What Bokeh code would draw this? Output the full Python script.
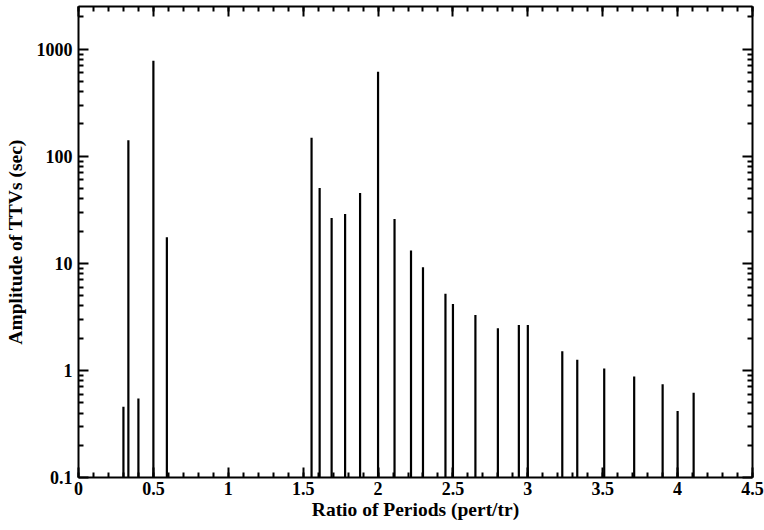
from bokeh.plotting import figure
from bokeh.models import LinearAxis, LogAxis, FixedTicker, CustomJSTickFormatter, Range1d
from bokeh.embed import file_html
from bokeh.resources import INLINE

# Data
period_ratio = [0.30, 0.333, 0.40, 0.50, 0.59, 1.556, 1.61, 1.69, 1.78, 1.88, 2.0,
                2.11, 2.22, 2.30, 2.45, 2.50, 2.65, 2.80, 2.94, 3.0, 3.23, 3.33,
                3.51, 3.71, 3.90, 4.0, 4.107]
ttv_amplitude = [0.457, 141, 0.548, 780, 17.5, 149, 50.4, 26.5, 28.9, 45.3, 614,
                 25.9, 13.2, 9.17, 5.2, 4.16, 3.29, 2.48, 2.65, 2.65, 1.51, 1.26,
                 1.04, 0.877, 0.743, 0.418, 0.619]
x_ticks = [0, 0.5, 1, 1.5, 2, 2.5, 3, 3.5, 4, 4.5]
y_ticks = [0.1, 1, 10, 100, 1000]

X_MIN, X_MAX = 0, 4.5
Y_MIN, Y_MAX = 0.1, 2500

x_minor = [round(i * 0.1, 1) for i in range(0, 46)]
y_minor = [k * 10.0 ** e for e in range(-1, 4) for k in range(2, 10)]

FONT = "'Liberation Serif', 'Times New Roman', 'DejaVu Serif', serif"

p = figure(frame_width=674, frame_height=471, y_axis_type="log",
           x_range=Range1d(X_MIN, X_MAX), y_range=Range1d(Y_MIN, Y_MAX),
           output_backend="svg", toolbar_location=None,
           min_border_left=78, min_border_right=12, min_border_top=6,
           min_border_bottom=53)
p.grid.visible = False
p.outline_line_color = None
p.background_fill_color = "white"
p.border_fill_color = "white"

p.segment(x0=period_ratio, y0=[Y_MIN] * len(period_ratio),
          x1=period_ratio, y1=ttv_amplitude,
          line_color="black", line_width=2.2, line_cap="butt")

fmt_js = "return String(tick)"
xt = FixedTicker(ticks=x_ticks, minor_ticks=x_minor)
yt = FixedTicker(ticks=y_ticks, minor_ticks=y_minor)


def style(ax, labels=True):
    ax.axis_line_width = 2
    ax.axis_line_color = "black"
    ax.major_tick_line_width = 2
    ax.minor_tick_line_width = 2
    ax.major_tick_in = 10
    ax.major_tick_out = 0
    ax.minor_tick_in = 5
    ax.minor_tick_out = 0
    ax.major_tick_line_color = "black"
    ax.minor_tick_line_color = "black"
    if labels:
        ax.major_label_text_font = FONT
        ax.major_label_text_font_style = "bold"
        ax.major_label_text_font_size = "18px"
        ax.major_label_text_color = "black"
        ax.axis_label_text_font = FONT
        ax.axis_label_text_font_style = "bold"
        ax.axis_label_text_font_size = "19.5px"
        ax.axis_label_text_color = "black"
    else:
        ax.major_label_text_font_size = "0px"
        ax.major_label_standoff = 0


xa = p.xaxis[0]
xa.ticker = xt
xa.formatter = CustomJSTickFormatter(code=fmt_js)
xa.axis_label = "Ratio of Periods (pert/tr)"
xa.major_label_standoff = 4
xa.axis_label_standoff = 1
style(xa)

ya = p.yaxis[0]
ya.ticker = yt
ya.formatter = CustomJSTickFormatter(code=fmt_js)
ya.axis_label = "Amplitude of TTVs (sec)"
ya.major_label_standoff = 6
ya.axis_label_standoff = 8
style(ya)

top = LinearAxis(ticker=FixedTicker(ticks=x_ticks, minor_ticks=x_minor),
                 formatter=CustomJSTickFormatter(code="return ''"))
style(top, labels=False)
p.add_layout(top, "above")

right = LogAxis(ticker=FixedTicker(ticks=y_ticks, minor_ticks=y_minor),
                formatter=CustomJSTickFormatter(code="return ''"))
style(right, labels=False)
p.add_layout(right, "right")

open("out.html", "w").write(file_html(p, INLINE))
